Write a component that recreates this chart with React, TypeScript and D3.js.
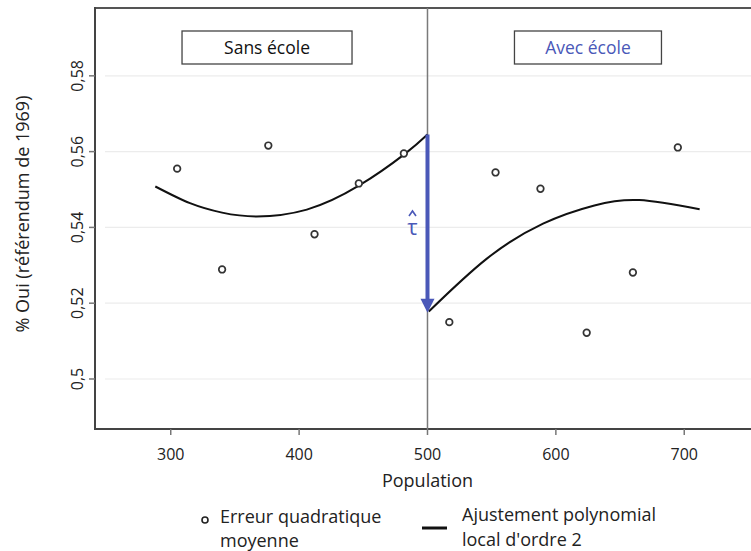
import React from "react";
import * as d3 from "d3";

const W = 751;
const H = 551;

const xTicks = [300, 400, 500, 600, 700];
const yTicks = [0.5, 0.52, 0.54, 0.56, 0.58];
const yTickLabels = ["0,5", "0,52", "0,54", "0,56", "0,58"];

const pointX = [305, 340, 376, 412, 446.5, 481.6, 517, 553, 588, 624, 660, 695];
const pointY = [0.5555, 0.5289, 0.5616, 0.5382, 0.5516, 0.5595, 0.515, 0.5545, 0.5502, 0.5122, 0.5281, 0.5611];

const leftFitX = [288, 315, 340, 367, 406, 446.5, 482.4, 500];
const leftFitY = [0.5508, 0.5464, 0.5439, 0.5429, 0.5447, 0.551, 0.5594, 0.5645];
const rightFitX = [501, 546, 590, 630, 665, 712];
const rightFitY = [0.5178, 0.5317, 0.541, 0.5458, 0.5472, 0.5448];

const cutoff = 500;
const tauTop = 0.5645;
const tauBottom = 0.518;

const panelLabels = ["Sans école", "Avec école"];
const panelCenters = [375, 625];

const BLUE = "#4a58b8";
const FONT = "'Open Sans', 'DejaVu Sans', sans-serif";

export default function App() {
  const x = d3.scaleLinear().domain([241, 752]).range([95, 751]);
  const y = d3.scaleLinear().domain([0.4868, 0.5979]).range([429, 8]);

  const line = d3
    .line<[number, number]>()
    .x((d) => x(d[0]))
    .y((d) => y(d[1]))
    .curve(d3.curveNatural);

  const leftPts: [number, number][] = leftFitX.map((v, i) => [v, leftFitY[i]]);
  const rightPts: [number, number][] = rightFitX.map((v, i) => [v, rightFitY[i]]);

  const x0 = x.range()[0];
  const x1 = x.range()[1];
  const yTop = y.range()[1];
  const yBot = y.range()[0];
  const cx = x(cutoff);
  const tx = cx - 15;

  return (
    <svg
      width={W}
      height={H}
      style={{ position: "absolute", left: 0, top: 0, background: "#fff" }}
      fontFamily={FONT}
    >
      {/* gridlines */}
      {yTicks.map((t) => (
        <line key={"g" + t} x1={x0 + 10} x2={x1} y1={y(t)} y2={y(t)} stroke="#ececec" strokeWidth={1.2} />
      ))}
      {/* frame */}
      <line x1={x0} x2={x1 + 5} y1={yTop} y2={yTop} stroke="#555" strokeWidth={1.8} />
      <line x1={x0} x2={x1 + 5} y1={yBot} y2={yBot} stroke="#444" strokeWidth={2} />
      <line x1={x0} x2={x0} y1={yTop - 1} y2={yBot + 1} stroke="#444" strokeWidth={2} />

      {/* x ticks */}
      {xTicks.map((t) => (
        <g key={"xt" + t}>
          <line x1={x(t)} x2={x(t)} y1={yBot} y2={yBot + 6} stroke="#777" strokeWidth={1.5} />
          <text x={x(t)} y={yBot + 31} textAnchor="middle" fontSize={16} fill="#222">
            {t}
          </text>
        </g>
      ))}
      {/* y ticks */}
      {yTicks.map((t, i) => (
        <g key={"yt" + t}>
          <line x1={x0 - 6} x2={x0} y1={y(t)} y2={y(t)} stroke="#777" strokeWidth={1.5} />
          <text
            transform={`translate(${x0 - 12},${y(t)}) rotate(-90)`}
            textAnchor="middle"
            fontSize={16}
            fill="#222"
          >
            {yTickLabels[i]}
          </text>
        </g>
      ))}

      {/* axis titles */}
      <text x={cx} y={487} textAnchor="middle" fontSize={18} fill="#222">
        Population
      </text>
      <text
        transform={`translate(29,${214}) rotate(-90)`}
        textAnchor="middle"
        fontSize={18}
        fill="#222"
      >
        % Oui (référendum de 1969)
      </text>

      {/* cutoff line */}
      <line x1={cx} x2={cx} y1={yTop} y2={yBot} stroke="#7a7a7a" strokeWidth={1.5} />

      {/* panel labels */}
      {panelLabels.map((lab, i) => {
        const w = i === 0 ? 170 : 147;
        const c = x(panelCenters[i]);
        return (
          <g key={lab}>
            <rect x={c - w / 2} y={31} width={w} height={33} fill="#fff" stroke="#444" strokeWidth={1.3} />
            <text x={c} y={54} textAnchor="middle" fontSize={17.5} fill={i === 0 ? "#111" : BLUE}>
              {lab}
            </text>
          </g>
        );
      })}

      {/* fits */}
      <path d={line(leftPts) || ""} fill="none" stroke="#111" strokeWidth={2} />
      <path d={line(rightPts) || ""} fill="none" stroke="#111" strokeWidth={2} />

      {/* points */}
      {pointX.map((v, i) => (
        <circle key={"p" + i} cx={x(v)} cy={y(pointY[i])} r={3.3} fill="#fff" stroke="#333" strokeWidth={1.7} />
      ))}

      {/* tau arrow */}
      <line x1={cx} x2={cx} y1={y(tauTop)} y2={y(tauBottom) - 10} stroke={BLUE} strokeWidth={4} />
      <path
        d={`M${cx - 7},${y(tauBottom) - 12} L${cx + 7},${y(tauBottom) - 12} L${cx},${y(tauBottom) + 2} Z`}
        fill={BLUE}
      />
      <text x={tx} y={235} textAnchor="middle" fontSize={22} fill={BLUE}>
        τ
      </text>
      <path
        d={`M${tx - 3.5},${216} L${tx},${211} L${tx + 3.5},${216}`}
        fill="none"
        stroke={BLUE}
        strokeWidth={1.6}
      />

      {/* legend */}
      <circle cx={205} cy={520} r={3} fill="#fff" stroke="#222" strokeWidth={1.6} />
      <text x={220} y={523} fontSize={18} fill="#222">
        Erreur quadratique
      </text>
      <text x={220} y={547} fontSize={18} fill="#222">
        moyenne
      </text>
      <line x1={422} x2={447} y1={528} y2={528} stroke="#111" strokeWidth={3} />
      <text x={462} y={521} fontSize={18} fill="#222">
        Ajustement polynomial
      </text>
      <text x={462} y={546} fontSize={18} fill="#222">
        local d'ordre 2
      </text>
    </svg>
  );
}
